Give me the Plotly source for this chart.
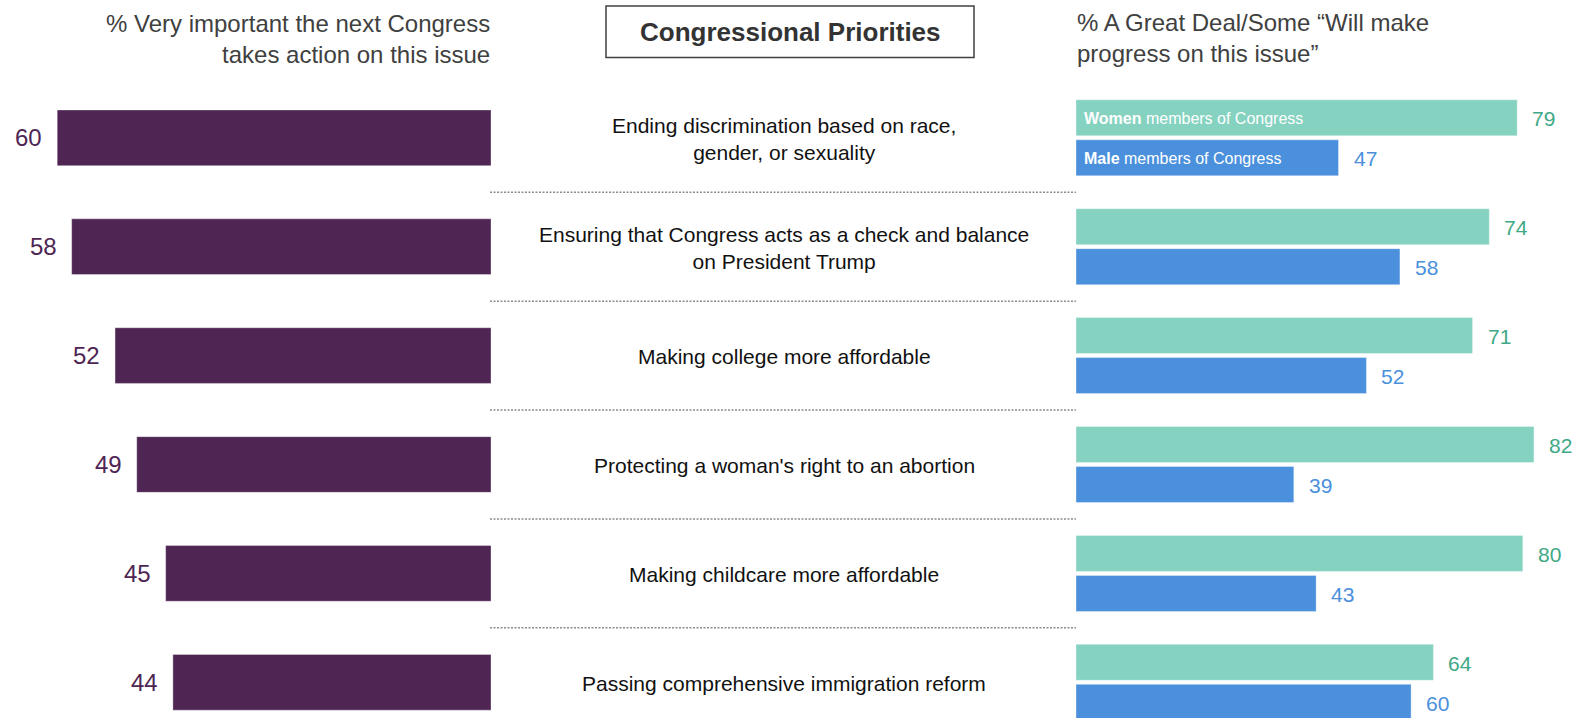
import plotly.graph_objects as go

categories = [
    "Ending discrimination based on race,<br>gender, or sexuality",
    "Ensuring that Congress acts as a check and balance<br>on President Trump",
    "Making college more affordable",
    "Protecting a woman's right to an abortion",
    "Making childcare more affordable",
    "Passing comprehensive immigration reform",
]
very_important = [60, 58, 52, 49, 45, 44]
women_progress = [79, 74, 71, 82, 80, 64]
male_progress = [47, 58, 52, 39, 43, 60]

left_header = "% Very important the next Congress<br>takes action on this issue"
right_header = "% A Great Deal/Some \u201cWill make<br>progress on this issue\u201d"
title_text = "<b>Congressional Priorities</b>"
women_label = "<b>Women</b> members of Congress"
male_label = "<b>Male</b> members of Congress"

W, H = 1576, 718
FONT = "Liberation Sans, Arial, sans-serif"
PURPLE = "#4E2553"
TEAL = "#85D2C0"
TEAL_TXT = "#3FA886"
BLUE = "#4A90DC"

# layout geometry (pixels)
row_c0, pitch = 137.8, 108.9
left_zero_px, left_ppu = 491.0, 7.23
right_zero_px, right_ppu = 1076.0, 5.585

y_top = -row_c0 / pitch
y_bot = (H - row_c0) / pitch

bar_w_left = 55.7 / pitch
bar_w_right = 36.0 / pitch
off_w = -38.0 / pitch
off_m = 2.0 / pitch

idx = list(range(len(categories)))

fig = go.Figure()
fig.add_trace(go.Bar(
    y=idx, x=very_important, orientation="h", xaxis="x", yaxis="y",
    width=bar_w_left, marker=dict(color=PURPLE, line=dict(color="rgba(255,255,255,0.35)", width=1)),
    hoverinfo="skip", showlegend=False,
))
fig.add_trace(go.Bar(
    y=idx, x=women_progress, orientation="h", xaxis="x2", yaxis="y",
    width=bar_w_right, offset=off_w,
    marker=dict(color=TEAL, line=dict(color="rgba(255,255,255,0.35)", width=1)),
    hoverinfo="skip", showlegend=False,
))
fig.add_trace(go.Bar(
    y=idx, x=male_progress, orientation="h", xaxis="x2", yaxis="y",
    width=bar_w_right, offset=off_m,
    marker=dict(color=BLUE, line=dict(color="rgba(255,255,255,0.35)", width=1)),
    hoverinfo="skip", showlegend=False,
))

annotations = []
shapes = []
for i, cat in enumerate(categories):
    # category labels
    annotations.append(dict(
        xref="paper", yref="y", x=784 / W, y=i, text=cat, showarrow=False,
        xanchor="center", yanchor="middle", align="center", yshift=-1,
        font=dict(family=FONT, size=21, color="#111111"),
    ))
    # left values
    annotations.append(dict(
        xref="x", yref="y", x=very_important[i], y=i, text=str(very_important[i]),
        showarrow=False, xanchor="right", yanchor="middle", xshift=-13,
        font=dict(family=FONT, size=24, color=PURPLE),
    ))
    # right values
    annotations.append(dict(
        xref="x2", yref="y", x=women_progress[i], y=i + off_w + bar_w_right / 2,
        text=str(women_progress[i]), showarrow=False, xanchor="left", yanchor="middle",
        xshift=13, yshift=-1, font=dict(family=FONT, size=21, color=TEAL_TXT),
    ))
    annotations.append(dict(
        xref="x2", yref="y", x=male_progress[i], y=i + off_m + bar_w_right / 2,
        text=str(male_progress[i]), showarrow=False, xanchor="left", yanchor="middle",
        xshift=13, yshift=-1, font=dict(family=FONT, size=21, color=BLUE),
    ))
    if i < len(categories) - 1:
        shapes.append(dict(
            type="line", xref="paper", yref="y", x0=490 / W, x1=1076 / W,
            y0=i + 0.5, y1=i + 0.5,
            line=dict(color="#8C8C8C", width=1.5, dash="2px,1.5px"),
        ))

# in-bar legend labels
annotations.append(dict(
    xref="x2", yref="y", x=0, y=0 + off_w + bar_w_right / 2, text=women_label,
    showarrow=False, xanchor="left", yanchor="middle", xshift=6, yshift=-1,
    font=dict(family=FONT, size=16, color="white"),
))
annotations.append(dict(
    xref="x2", yref="y", x=0, y=0 + off_m + bar_w_right / 2, text=male_label,
    showarrow=False, xanchor="left", yanchor="middle", xshift=6, yshift=-1,
    font=dict(family=FONT, size=16, color="white"),
))

# headers
annotations.append(dict(
    xref="paper", yref="paper", x=492 / W, y=1 - 39 / H, text=left_header,
    showarrow=False, xanchor="right", yanchor="middle", align="right",
    font=dict(family=FONT, size=24, color="#404040"),
))
annotations.append(dict(
    xref="paper", yref="paper", x=1075 / W, y=1 - 38 / H, text=right_header,
    showarrow=False, xanchor="left", yanchor="middle", align="left",
    font=dict(family=FONT, size=24, color="#404040"),
))
annotations.append(dict(
    xref="paper", yref="paper", x=790 / W, y=1 - 32 / H, text=title_text,
    showarrow=False, xanchor="center", yanchor="middle",
    font=dict(family=FONT, size=26, color="#333333"),
))
shapes.append(dict(
    type="rect", xref="paper", yref="paper", x0=606 / W, x1=974 / W,
    y0=1 - 57.5 / H, y1=1 - 6 / H, line=dict(color="#404040", width=1.5),
    fillcolor="rgba(0,0,0,0)",
))

fig.update_layout(
    width=W, height=H,
    margin=dict(l=0, r=0, t=0, b=0),
    paper_bgcolor="white", plot_bgcolor="white",
    barmode="overlay",
    xaxis=dict(domain=[0, left_zero_px / W], range=[left_zero_px / left_ppu, 0],
               visible=False, fixedrange=True, anchor="y"),
    xaxis2=dict(domain=[right_zero_px / W, 1], range=[0, (W - right_zero_px) / right_ppu],
                visible=False, fixedrange=True, anchor="y"),
    yaxis=dict(range=[y_bot, y_top], visible=False, fixedrange=True, anchor="x"),
    annotations=annotations,
    shapes=shapes,
)

fig.write_html(
    "out.html",
    config={"displayModeBar": False},
    post_script="document.body.style.margin='0px';document.body.style.overflow='hidden';",
)
